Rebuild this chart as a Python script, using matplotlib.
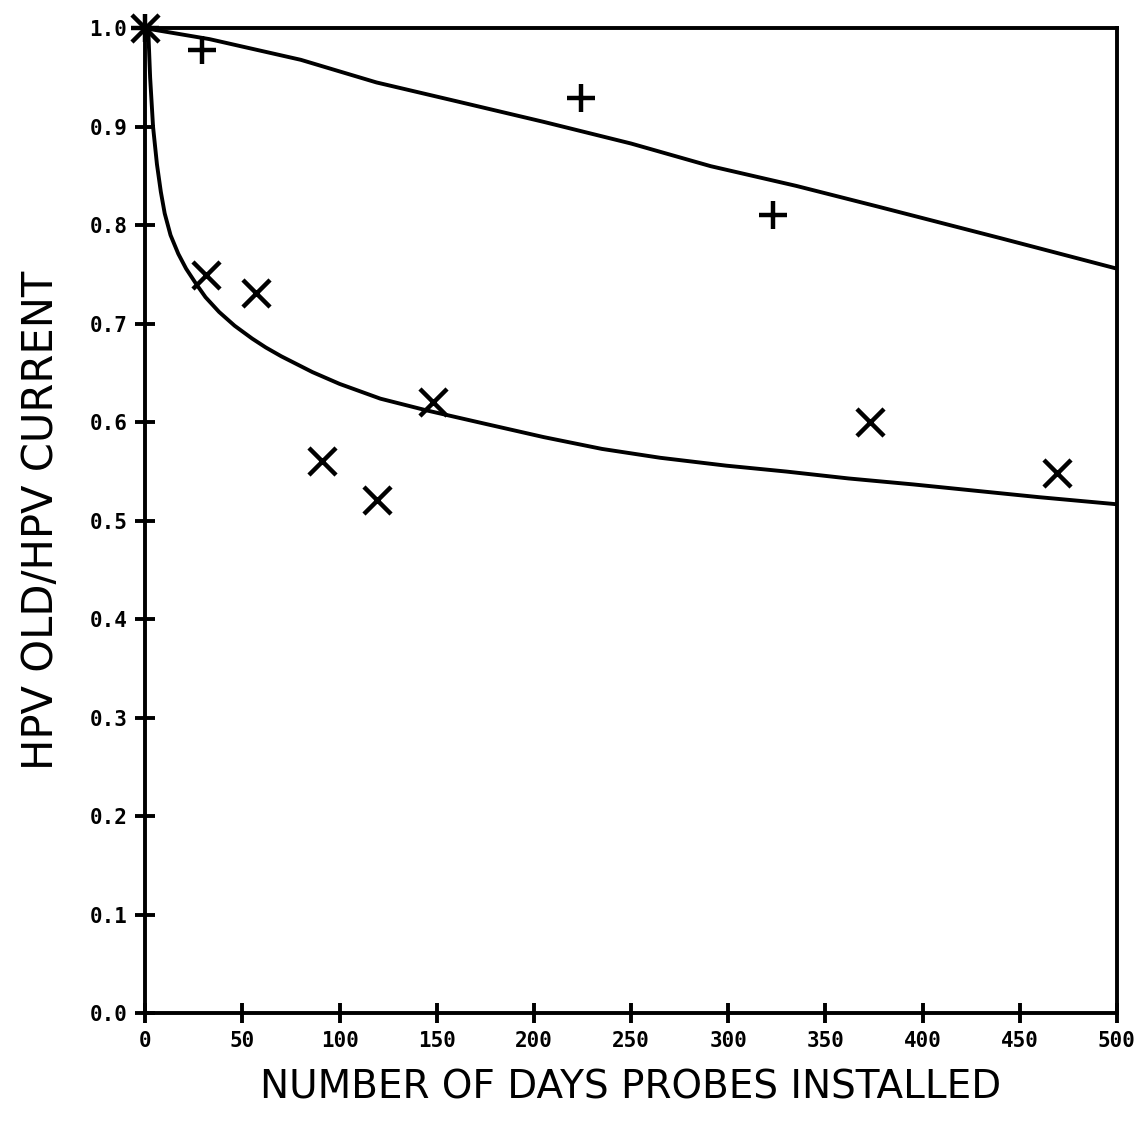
import matplotlib
matplotlib.use("Agg")
import matplotlib.pyplot as plt

# --- data ---
plus_days = [0, 29, 224, 323]
plus_vals = [1.0, 0.978, 0.929, 0.810]

x_days = [0, 31, 57, 91, 119, 148, 373, 469]
x_vals = [1.0, 0.750, 0.731, 0.561, 0.521, 0.621, 0.600, 0.549]

upper_days = [0, 33, 80, 119, 160, 205, 250, 291, 335, 377, 440, 500]
upper_vals = [1.0, 0.989, 0.968, 0.945, 0.926, 0.905, 0.883, 0.860, 0.840, 0.819, 0.787, 0.756]

lower_days = [1.5, 2.5, 4, 6, 8, 10, 13, 17, 21, 26, 31, 38, 46, 55, 62, 70, 78, 86,
              100, 121, 145, 176, 205, 235, 265, 299, 330, 362, 395, 425, 460, 499]
lower_vals = [1.0, 0.95, 0.90, 0.862, 0.834, 0.812, 0.790, 0.771, 0.756, 0.741, 0.727,
              0.712, 0.698, 0.685, 0.676, 0.667, 0.659, 0.651, 0.639, 0.624, 0.612,
              0.598, 0.585, 0.573, 0.564, 0.556, 0.550, 0.543, 0.537, 0.531, 0.524, 0.517]

xticks = [0, 50, 100, 150, 200, 250, 300, 350, 400, 450, 500]
yticks = [0.0, 0.1, 0.2, 0.3, 0.4, 0.5, 0.6, 0.7, 0.8, 0.9, 1.0]

fig = plt.figure(figsize=(11.35, 11.31), dpi=100)
ax = fig.add_axes([0.128, 0.104, 0.856, 0.871])

ax.plot(upper_days, upper_vals, color="black", lw=2.8, solid_joinstyle="round")
ax.plot(lower_days, lower_vals, color="black", lw=2.8, solid_joinstyle="round")
ax.scatter(plus_days, plus_vals, marker="+", s=380, color="black", linewidths=3.2,
           clip_on=False, zorder=5)
ax.scatter(x_days, x_vals, marker="x", s=380, color="black", linewidths=3.2,
           clip_on=False, zorder=5)

ax.set_xlim(0, 500)
ax.set_ylim(0, 1.0)
ax.set_xticks(xticks)
ax.set_yticks(yticks)
ax.set_xticklabels([str(t) for t in xticks])
ax.set_yticklabels([f"{t:.1f}" for t in yticks])

for s in ax.spines.values():
    s.set_linewidth(2.8)
    s.set_color("black")

ax.tick_params(direction="inout", length=14, width=2.8, colors="black", pad=6)
for lab in ax.get_xticklabels() + ax.get_yticklabels():
    lab.set_fontfamily("DejaVu Sans Mono")
    lab.set_fontweight("bold")
    lab.set_fontsize(15)

ax.set_xlabel("NUMBER OF DAYS PROBES INSTALLED", fontsize=28,
              fontfamily="DejaVu Sans", labelpad=12)
ax.set_ylabel("HPV OLD/HPV CURRENT", fontsize=30,
              fontfamily="DejaVu Sans", labelpad=20)

fig.savefig("out.png", dpi=100, facecolor="white")
